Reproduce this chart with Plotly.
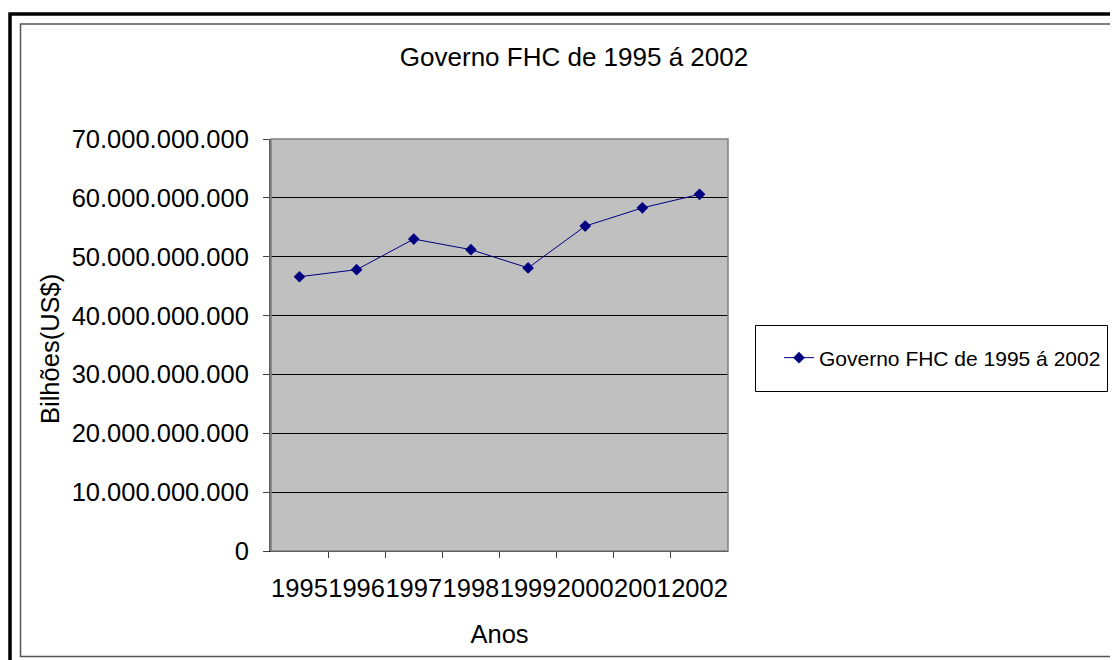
import plotly.graph_objects as go

anos = ["1995", "1996", "1997", "1998", "1999", "2000", "2001", "2002"]
valores = [46.6e9, 47.8e9, 53.0e9, 51.2e9, 48.1e9, 55.2e9, 58.3e9, 60.6e9]
serie_nome = "Governo FHC de 1995 á 2002"
titulo = "Governo FHC de 1995 á 2002"
y_titulo = "Bilhões(US$)"
x_titulo = "Anos"

# page body has an 8px margin; work in screen pixels and subtract it
OFF = 8
W, H = 1118 - OFF, 660 - OFF
L, R, T, B = 271 - OFF, 728 - OFF, 139 - OFF, 551 - OFF
pw, ph = R - L, B - T

def px(x):
    return (x - OFF - L) / pw

def py(y):
    return (B - (y - OFF)) / ph

font = "Liberation Sans, Arial, sans-serif"

fig = go.Figure()
fig.add_trace(go.Scatter(
    x=anos, y=valores, name=serie_nome, mode="lines+markers",
    line=dict(color="#000080", width=1),
    marker=dict(symbol="diamond", size=9, color="#000080"),
))

fig.update_layout(
    width=W, height=H,
    margin=dict(l=L, r=W - R, t=T, b=H - B, pad=0),
    paper_bgcolor="white", plot_bgcolor="#C0C0C0",
    separators=",.",
    font=dict(family=font, size=25.5, color="black"),
    title=dict(text=titulo, x=(574 - OFF) / W, xanchor="center", y=1 - (57 - OFF) / H,
               yanchor="middle", font=dict(family=font, size=26, color="black")),
    showlegend=True,
    legend=dict(x=px(779), xanchor="left", y=py(358), yanchor="middle",
                borderwidth=0, bgcolor="rgba(0,0,0,0)",
                font=dict(family=font, size=21, color="black")),
    xaxis=dict(type="category", tickson="boundaries", ticks="outside", ticklen=6,
               tickcolor="#404040", showgrid=False, showline=True, linecolor="#000000",
               linewidth=1, mirror=False, ticklabelstandoff=14, tickangle=0,
               automargin=False,
               title=dict(text=x_titulo, standoff=24, font=dict(size=25.5)),
               tickfont=dict(size=25.5)),
    yaxis=dict(range=[0, 70e9], dtick=10e9, tickformat=",d", ticks="outside", ticklen=6,
               tickcolor="#404040", showgrid=True, gridcolor="black", gridwidth=1,
               showline=True, linecolor="#606060", linewidth=2, zeroline=False,
               ticklabelstandoff=9, automargin=False,
               tickfont=dict(size=25.5)),
    annotations=[
        dict(text=y_titulo, xref="paper", yref="paper", x=px(50), y=py(349),
             xanchor="center", yanchor="middle", textangle=-90, showarrow=False,
             font=dict(family=font, size=25.5, color="black")),
    ],
    shapes=[
        dict(type="rect", xref="paper", yref="paper", x0=px(271), x1=px(728), y0=py(551), y1=py(139),
             line=dict(color="#808080", width=1.5), layer="above"),
        dict(type="rect", xref="paper", yref="paper", x0=px(755.5), x1=px(1107.5), y0=py(391.5), y1=py(325.5),
             line=dict(color="black", width=1), fillcolor="white", layer="below"),
        dict(type="rect", xref="paper", yref="paper", x0=px(20.5), x1=px(1140), y0=py(656.5), y1=py(24),
             line=dict(color="#555555", width=1.5), layer="above"),
        dict(type="rect", xref="paper", yref="paper", x0=px(10), x1=px(1160), y0=py(690), y1=py(14),
             line=dict(color="black", width=3.5), layer="above"),
    ],
)

fig.write_html("out.html")
